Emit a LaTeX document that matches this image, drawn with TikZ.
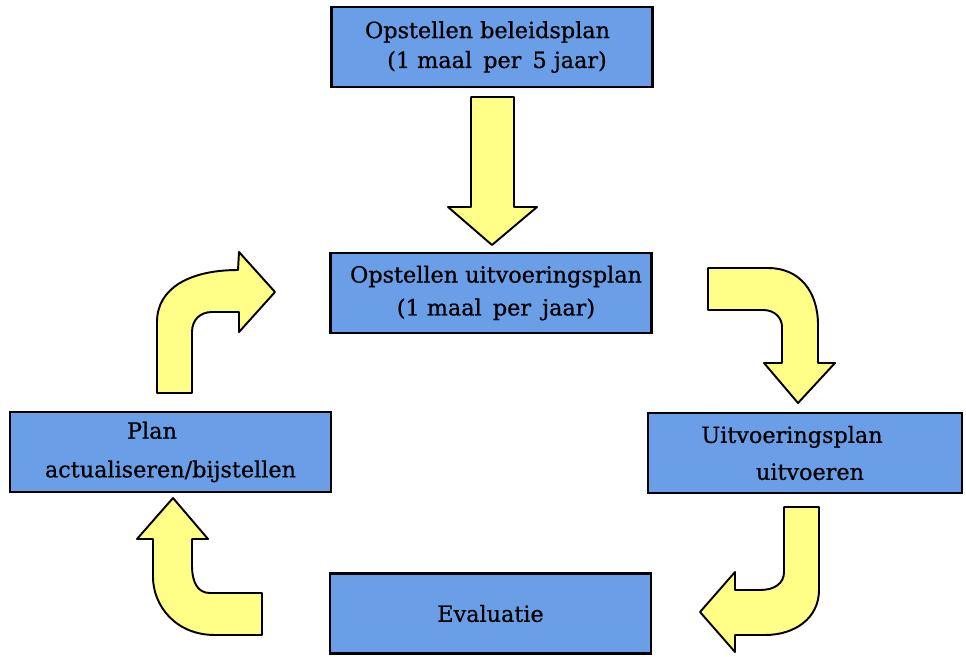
\documentclass[tikz,border=0pt]{standalone}
\usepackage{fontspec}
\setmainfont{DejaVu Serif}
\newfontfamily\boxfont{DejaVu Serif}[FakeBold=0.7]
\definecolor{boxblue}{RGB}{106,158,230}
\definecolor{arrowyellow}{RGB}{255,255,136}
\begin{document}
\begin{tikzpicture}[x=0.2mm,y=-0.2mm,
  box/.style={draw=black,fill=boxblue,line width=1.5pt,minimum width=64.2mm,
    minimum height=16mm,inner sep=0pt,align=center,font=\boxfont\fontsize{12.7}{17}\selectfont},
  blockarrow/.style={draw=black,fill=arrowyellow,line width=1.1pt,line join=round}]
\useasboundingbox (0,0) rectangle (966,656);
% boxes
\node[box] (beleid) at (492,47) {Opstellen beleidsplan\hspace*{1.8mm}\\
  \hspace*{2mm}(1 maal\enspace per\enspace 5 jaar)};
\node[box] (uitvplan) at (491,293) {\hspace*{2mm}Opstellen uitvoeringsplan\\[1.7pt]
  \hspace*{2mm}(1 maal\enspace per\enspace jaar)};
\node[box] (actual) at (170.5,452) {Plan\hspace*{7.4mm}\\[5pt]actualiseren/bijstellen};
\node[box,minimum width=62.8mm] (uitvoeren) at (805,453) {Uitvoeringsplan\hspace*{5.2mm}\\[4pt]
  \hspace*{2mm}uitvoeren};
\node[box] (eval) at (490.5,613.5) {Evaluatie};
% arrows
\draw[blockarrow] (471,97) -- (514,97) -- (514,207) -- (537,207) -- (492,245)
  -- (448,207) -- (471,207) -- cycle;
\draw[blockarrow] (708,268) -- (768,268) .. controls (800,268) and (818,292) .. (818,325)
  -- (818,363) -- (835,363) -- (798,403) -- (764,363) -- (782,363) -- (782,327)
  .. controls (782,318) and (775,310) .. (763,310) -- (708,310) -- cycle;
\draw[blockarrow] (784,507) -- (819,507) -- (819,590) .. controls (819,618) and (795,635) .. (765,635)
  -- (735,635) -- (735,652) -- (700,612) -- (735,572) -- (735,590) -- (760,590)
  .. controls (775,590) and (784,583) .. (784,572) -- cycle;
\draw[blockarrow] (173,498) -- (208,539) -- (192,539) -- (192,565)
  .. controls (192,583) and (198,593) .. (210,593) -- (262,593) -- (262,635) -- (215,635)
  .. controls (175,635) and (153,605) .. (153,577) -- (153,539) -- (137,539) -- cycle;
\draw[blockarrow] (157,393) -- (157,322) .. controls (157,288) and (190,270) .. (238,270)
  -- (239,252) -- (275,292) -- (239,332) -- (239,312) -- (212,312)
  .. controls (200,312) and (192,320) .. (192,332) -- (192,393) -- cycle;
\end{tikzpicture}
\end{document}
